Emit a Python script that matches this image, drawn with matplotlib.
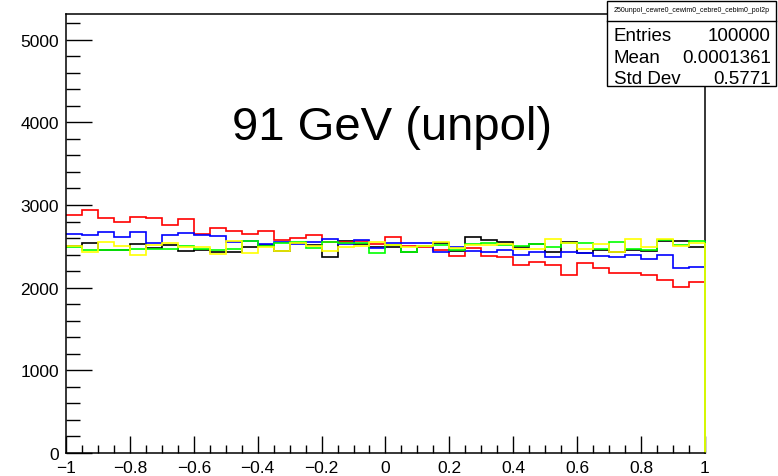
import matplotlib.pyplot as plt
import numpy as np
from matplotlib.patches import Rectangle
from matplotlib.ticker import MultipleLocator

plt.rcParams['font.family'] = ['Liberation Sans', 'DejaVu Sans']

# 40 bins in cos(theta) from -1 to 1
edges = np.linspace(-1, 1, 41)

h_black = [2504, 2545, 2451, 2455, 2528, 2476, 2520, 2448, 2455, 2431,
           2435, 2496, 2516, 2448, 2540, 2520, 2365, 2560, 2528, 2495,
           2496, 2427, 2500, 2540, 2443, 2618, 2573, 2557, 2496, 2528,
           2431, 2553, 2415, 2455, 2431, 2460, 2448, 2569, 2569, 2496]
h_red = [2873, 2937, 2848, 2800, 2852, 2840, 2759, 2828, 2649, 2727,
         2690, 2649, 2690, 2573, 2597, 2637, 2555, 2549, 2560, 2524,
         2618, 2500, 2492, 2451, 2381, 2484, 2379, 2370, 2280, 2306,
         2278, 2157, 2302, 2241, 2172, 2172, 2152, 2091, 2011, 2072]
h_blue = [2654, 2637, 2678, 2618, 2674, 2540, 2637, 2666, 2637, 2621,
          2549, 2564, 2524, 2555, 2533, 2549, 2589, 2533, 2573, 2484,
          2536, 2545, 2545, 2435, 2492, 2448, 2427, 2453, 2391, 2431,
          2367, 2431, 2415, 2383, 2375, 2391, 2351, 2399, 2241, 2253]
h_green = [2496, 2451, 2451, 2455, 2467, 2467, 2467, 2508, 2464, 2455,
           2464, 2564, 2504, 2540, 2549, 2476, 2557, 2536, 2540, 2423,
           2516, 2427, 2500, 2516, 2451, 2524, 2540, 2516, 2504, 2528,
           2488, 2545, 2536, 2465, 2553, 2464, 2455, 2577, 2512, 2569]
h_yellow = [2508, 2427, 2552, 2508, 2394, 2512, 2545, 2496, 2496, 2407,
            2561, 2415, 2496, 2445, 2540, 2508, 2440, 2490, 2506, 2555,
            2516, 2496, 2500, 2549, 2476, 2516, 2516, 2528, 2464, 2467,
            2585, 2536, 2467, 2528, 2431, 2593, 2496, 2585, 2504, 2545]

hists = [(h_black, 'black'), (h_red, 'red'), (h_blue, 'blue'),
         (h_green, '#00ff00'), (h_yellow, '#ffff00')]

fig = plt.figure(figsize=(7.78, 4.77), dpi=100)
ax = fig.add_axes([0.0848, 0.0482, 0.8213, 0.9203])

for vals, col in hists:
    ax.stairs(vals, edges, baseline=None, color=col, lw=1.2, zorder=2)
    # closing edge down to zero at x = 1
    ax.vlines(edges[-1], 0, vals[-1], color=col, lw=1.2, zorder=2, clip_on=False)

ax.set_xlim(-1, 1)
ax.set_ylim(0, 5310)

# frame: left/bottom axes above the histograms, right/top edge below
for side in ['right', 'top']:
    ax.spines[side].set_zorder(1)
for sp in ax.spines.values():
    sp.set_linewidth(1.1)

ax.xaxis.set_major_locator(MultipleLocator(0.2))
ax.xaxis.set_minor_locator(MultipleLocator(0.05))
ax.yaxis.set_major_locator(MultipleLocator(1000))
ax.yaxis.set_minor_locator(MultipleLocator(200))
ax.tick_params(axis='x', which='major', direction='in', length=12, width=1, labelsize=12.5, pad=5)
ax.tick_params(axis='x', which='minor', direction='in', length=6, width=1)
ax.tick_params(axis='y', which='major', direction='in', length=19, width=1, labelsize=12.5, pad=5)
ax.tick_params(axis='y', which='minor', direction='in', length=10, width=1)
ax.set_xticks([-1, -0.8, -0.6, -0.4, -0.2, 0, 0.2, 0.4, 0.6, 0.8, 1])
ax.set_xticklabels(['\u22121', '\u22120.8', '\u22120.6', '\u22120.4', '\u22120.2',
                    '0', '0.2', '0.4', '0.6', '0.8', '1'])

ax.text(0.02, 3800, '91 GeV (unpol)', fontsize=34, ha='center', va='baseline')

# statistics box
fig.patches.append(Rectangle((0.7802, 0.8176), 0.2172, 0.1782, transform=fig.transFigure,
                             facecolor='white', edgecolor='black', lw=1, zorder=5))
fig.lines.append(plt.Line2D([0.7802, 0.9974], [0.9539, 0.9539], transform=fig.transFigure,
                            color='black', lw=1, zorder=6))
fig.text(0.8888, 0.978, '250unpol_cewre0_cewim0_cebre0_cebim0_pol2p', fontsize=5,
         ha='center', va='center', zorder=7)
stats = [('Entries', '100000'), ('Mean', '0.0001361'), ('Std Dev', '0.5771')]
for i, (name, val) in enumerate(stats):
    y = 0.9225 - i * 0.0445
    fig.text(0.789, y, name, fontsize=13.5, ha='left', va='center', zorder=7)
    fig.text(0.991, y, val, fontsize=13.5, ha='right', va='center', zorder=7)

fig.savefig('out.png', dpi=100)
